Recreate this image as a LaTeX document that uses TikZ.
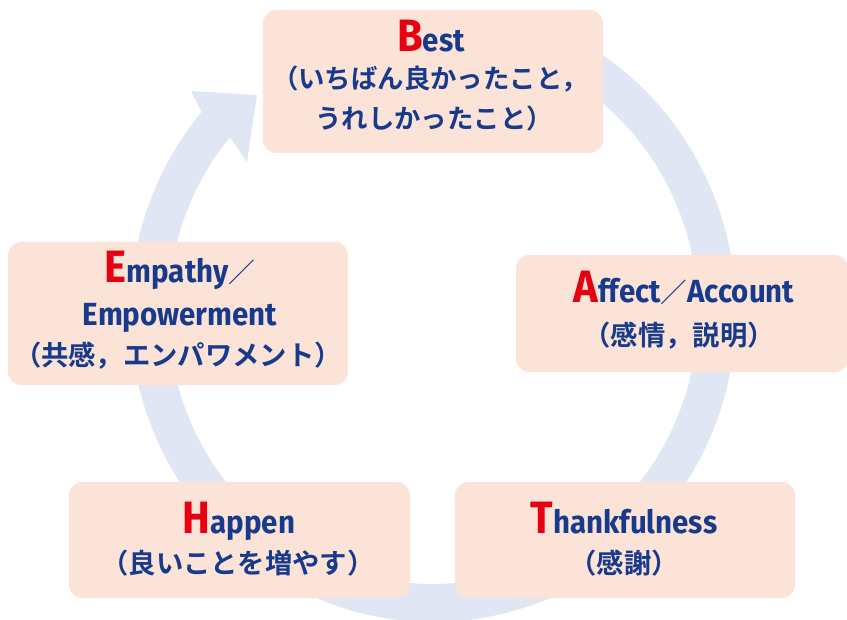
\documentclass[tikz,border=0pt]{standalone}
\usepackage{fontspec}
\newfontfamily\jpb{Noto Sans CJK JP Bold}
\newfontfamily\jpr{Noto Sans CJK JP}
\newfontfamily\latb[FakeStretch=0.92]{Fira Sans Bold}
\definecolor{ringblue}{RGB}{224,230,243}
\definecolor{boxfill}{RGB}{252,227,215}
\definecolor{navy}{RGB}{24,58,140}
\definecolor{initred}{RGB}{230,0,18}
% initial letter, Latin word, Japanese gloss, thin full-width slash
\newcommand\Ini[1]{{\latb\fontsize{34}{34}\selectfont\color{initred}#1}}
\newcommand\Lat[1]{{\latb\fontsize{24}{24}\selectfont #1}}
\newcommand\Jp[1]{{\jpb\fontsize{20.5}{20.5}\selectfont #1}}
\newcommand\JpS[1]{{\jpb\fontsize{19.8}{19.8}\selectfont #1}}
\newcommand\Sl{{\jpr\fontsize{20}{20}\selectfont ／}}
\begin{document}
\begin{tikzpicture}[x=0.75pt,y=0.75pt,
  stagebox/.style={rectangle, rounded corners=10pt, fill=boxfill, draw=none, inner sep=0pt},
  txt/.style={anchor=base, inner sep=0pt, text=navy}]
\useasboundingbox (0,0) rectangle (847,619);

% circular arrow running clockwise behind the boxes
\begin{scope}[shift={(433,307)}]
  \fill[ringblue] (70:303 and 310)
    arc[start angle=70, end angle=-220.2, x radius=227.25pt, y radius=232.5pt]
    -- (-242,221) -- (-176,217) -- (-186,150)
    -- (-220:265 and 272)
    arc[start angle=-220, end angle=70, x radius=198.75pt, y radius=204pt] -- cycle;
\end{scope}

% stage boxes
\node[stagebox, minimum width=255pt, minimum height=107.25pt] (best) at (433,537.5) {};
\node[stagebox, minimum width=249pt, minimum height=87.75pt] (affect) at (682,305.5) {};
\node[stagebox, minimum width=255pt, minimum height=107.25pt] (empathy) at (178,305.5) {};
\node[stagebox, minimum width=255.75pt, minimum height=87pt] (happen) at (239.5,79) {};
\node[stagebox, minimum width=255pt, minimum height=87pt] (thank) at (625,79) {};

% labels
\node[txt] (best1) at (431,567) {\Ini{B}\Lat{est}};
\node[txt] (best2) at (430,530) {\JpS{（いちばん良かったこと，}};
\node[txt] (best3) at (434,490) {\JpS{うれしかったこと）}};

\node[txt] (aff1) at (684,316) {\Ini{A}\Lat{ffect}\Sl\Lat{Account}};
\node[txt] (aff2) at (679,274) {\Jp{（感情，説明）}};

\node[txt] (emp1) at (180,336) {\Ini{E}\Lat{mpathy}\Sl};
\node[txt] (emp2) at (180,294) {\Lat{Empowerment}};
\node[txt] (emp3) at (178,254) {\Jp{（共感，エンパワメント）}};

\node[txt] (hap1) at (239,86) {\Ini{H}\Lat{appen}};
\node[txt] (hap2) at (238,46) {\Jp{（良いことを増やす）}};

\node[txt] (tha1) at (624,86) {\Ini{T}\Lat{hankfulness}};
\node[txt] (tha2) at (624,46) {\Jp{（感謝）}};
\end{tikzpicture}
\end{document}
